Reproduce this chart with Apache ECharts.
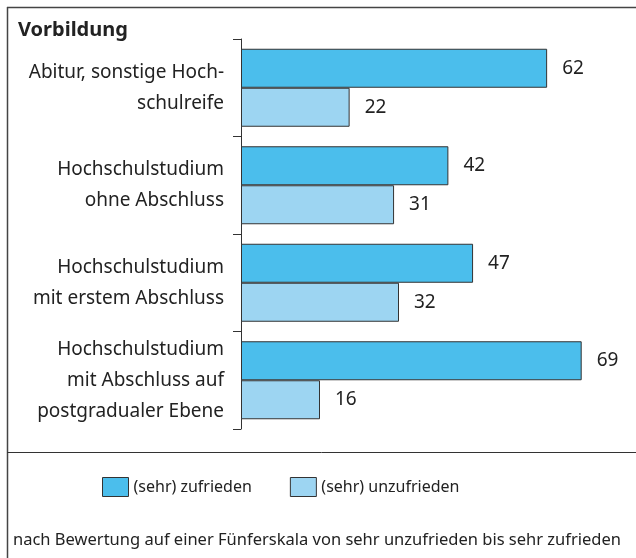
<!DOCTYPE html>
<html>
<head>
<meta charset="utf-8">
<script src="https://cdn.jsdelivr.net/npm/echarts@6/dist/echarts.min.js"></script>
<style>
html,body{margin:0;padding:0;background:#fff;}
#chart{width:636px;height:558px;}
</style>
</head>
<body>
<div id="chart"></div>
<script>
var title = 'Vorbildung';
var categories = [
  'Abitur, sonstige Hoch-\nschulreife',
  'Hochschulstudium\nohne Abschluss',
  'Hochschulstudium\nmit erstem Abschluss',
  'Hochschulstudium\nmit Abschluss auf\npostgradualer Ebene'
];
var seriesNames = ['(sehr) zufrieden', '(sehr) unzufrieden'];
var zufrieden = [62, 42, 47, 69];
var unzufrieden = [22, 31, 32, 16];
var footnote = 'nach Bewertung auf einer Fünferskala von sehr unzufrieden bis sehr zufrieden';

var FONT = 'Noto Sans';
var chart = echarts.init(document.getElementById('chart'));
chart.setOption({
  backgroundColor: '#fff',
  animation: false,
  textStyle: {fontFamily: FONT, color: '#222'},
  grid: {left: 241, top: 39, height: 390, width: 400, containLabel: false},
  xAxis: {type: 'value', min: 0, max: 80, show: false},
  yAxis: {
    type: 'category', inverse: true, data: categories,
    axisLine: {show: true, lineStyle: {color: '#333', width: 1}},
    axisTick: {show: true, length: 8, lineStyle: {color: '#333', width: 1}},
    axisLabel: {margin: 17, fontSize: 19, lineHeight: 31, color: '#222', fontFamily: FONT, align: 'right'}
  },
  legend: {
    left: 102, top: 477, padding: 0, itemWidth: 26, itemHeight: 19, itemGap: 38, icon: 'rect',
    textStyle: {fontSize: 16, color: '#222', fontFamily: FONT},
    itemStyle: {borderColor: '#333', borderWidth: 1},
    data: seriesNames
  },
  series: [
    {name: seriesNames[0], type: 'bar', data: zufrieden, barCategoryGap: '20%', barGap: '0%',
     itemStyle: {color: '#4BBEEC', borderColor: '#333', borderWidth: 1},
     label: {show: true, position: 'right', distance: 15, fontSize: 19, color: '#222', fontFamily: FONT}},
    {name: seriesNames[1], type: 'bar', data: unzufrieden, barCategoryGap: '20%', barGap: '0%',
     itemStyle: {color: '#9DD5F2', borderColor: '#333', borderWidth: 1},
     label: {show: true, position: 'right', distance: 15, fontSize: 19, color: '#222', fontFamily: FONT}}
  ],
  graphic: [
    {type: 'line', shape: {x1: 7, y1: 7.5, x2: 636, y2: 7.5}, style: {stroke: '#444', lineWidth: 1.5}},
    {type: 'line', shape: {x1: 7.5, y1: 7, x2: 7.5, y2: 558}, style: {stroke: '#444', lineWidth: 1.5}},
    {type: 'line', shape: {x1: 7, y1: 452.5, x2: 636, y2: 452.5}, style: {stroke: '#333', lineWidth: 1}},
    {type: 'text', x: 18, y: 30, style: {text: title, font: 'bold 20px "Noto Sans"', fill: '#222', verticalAlign: 'middle'}},
    {type: 'text', x: 13, y: 540.5, style: {text: footnote, font: '16.5px "Noto Sans"', fill: '#222', verticalAlign: 'middle'}}
  ]
});
</script>
</body>
</html>
